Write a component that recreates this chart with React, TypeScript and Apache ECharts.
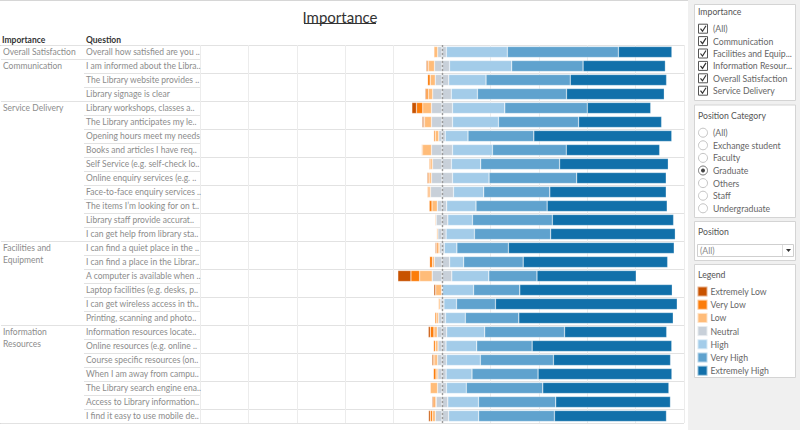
import React, { useEffect, useRef } from "react";
import * as echarts from "echarts";

const FONT = 'Lato, "Noto Sans", sans-serif';
const TABLE_FS = 8.5;
const PANEL_FS = 8.7;

const questions = [
  "Overall how satisfied are you ..",
  "I am informed about the Libra..",
  "The Library website provides ..",
  "Library signage is clear",
  "Library workshops, classes a..",
  "The Library anticipates my le..",
  "Opening hours meet my needs",
  "Books and articles I have req..",
  "Self Service (e.g. self-check lo..",
  "Online enquiry services (e.g. ..",
  "Face-to-face enquiry services ..",
  "The items I\u2019m looking for on t..",
  "Library staff provide accurat..",
  "I can get help from library sta..",
  "I can find a quiet place in the ..",
  "I can find a place in the Librar..",
  "A computer is available when ..",
  "Laptop facilities (e.g. desks, p..",
  "I can get wireless access in th..",
  "Printing, scanning and photo..",
  "Information resources locate..",
  "Online resources (e.g. online ..",
  "Course specific resources (on..",
  "When I am away from campu..",
  "The Library search engine ena..",
  "Access to Library information..",
  "I find it easy to use mobile de..",
];

const questionGroup = [
  0, 1, 1, 1, 2, 2, 2, 2, 2, 2, 2, 2, 2, 2, 3, 3, 3, 3, 3, 3, 4, 4, 4, 4, 4, 4, 4,
];

const groupLabelLines = [
  ["Overall Satisfaction"],
  ["Communication"],
  ["Service Delivery"],
  ["Facilities and", "Equipment"],
  ["Information", "Resources"],
];

const levels = ["Extremely Low", "Very Low", "Low", "Neutral", "High", "Very High", "Extremely High"];
const levelColors = ["#c85200", "#fc7d0b", "#ffbc79", "#c8d0d9", "#a3cce9", "#5fa2ce", "#1170aa"];

// percent of responses per level
const extremelyLow = [0, 0.4, 0, 0.4, 1.9, 0.6, 0, 0, 0, 0.4, 0, 0, 0, 0, 0.4, 0, 5.4, 0.7, 0, 0, 0.8, 0, 0.5, 0, 0, 0.4, 0.7];
const veryLow = [0, 0.6, 1.1, 0.9, 2.6, 0.3, 0.6, 0.4, 0.6, 0.6, 0.6, 1.2, 0, 0, 0.7, 1.2, 3.6, 0, 0, 0.7, 1.5, 0.8, 0.6, 1.1, 0, 0.8, 0.9];
const low = [1.6, 2.5, 2.1, 1.9, 3.6, 2.9, 1.5, 3.7, 0.8, 0.8, 0.7, 2.2, 0.5, 0.6, 0.7, 0.8, 5.2, 2.5, 0.8, 0.8, 1.4, 1.1, 1.2, 0.8, 3.1, 0.5, 1.2];
const neutral = [3.6, 6.2, 5.6, 7.7, 8.7, 8.7, 2.7, 8.7, 7.8, 8.7, 9.5, 3.9, 4.8, 3.4, 1.9, 6.3, 8.1, 0.3, 1.6, 2.9, 3.9, 3.3, 3.7, 3.4, 3.7, 4.8, 5.5];
const high = [25.2, 25.7, 15.4, 10.8, 21.6, 19.0, 9.4, 16.5, 12.1, 15.1, 12.5, 12.1, 10.2, 11.7, 5.2, 5.8, 15.3, 12.9, 5.2, 8.2, 15.7, 12.7, 14.0, 10.7, 8.2, 12.7, 12.4];
const veryHigh = [45.9, 29.5, 34.8, 36.8, 34.1, 33.1, 27.2, 30.5, 32.6, 36.2, 27.3, 29.4, 33.0, 31.5, 21.3, 24.6, 19.9, 19.1, 16.1, 22.1, 33.0, 22.9, 30.2, 27.3, 31.6, 31.9, 31.3];
const extremelyHigh = [22.1, 34.0, 39.8, 40.4, 26.2, 34.3, 57.0, 38.6, 44.9, 37.0, 48.1, 49.6, 50.1, 51.5, 68.5, 59.7, 41.0, 63.0, 75.1, 63.8, 42.2, 57.7, 48.4, 55.3, 52.1, 47.4, 46.3];

const importanceFilter = ["(All)", "Communication", "Facilities and Equip...", "Information Resour...", "Overall Satisfaction", "Service Delivery"];
const positionCategories = ["(All)", "Exchange student", "Faculty", "Graduate", "Others", "Staff", "Undergraduate"];
const selectedCategory = "Graduate";

function groupRowLabel(index: number): string {
  const g = questionGroup[index];
  const first = questionGroup.indexOf(g);
  const lines = groupLabelLines[g];
  const k = index - first;
  if (k === 0) return lines[0];
  if (k < lines.length) return "{l2|" + lines[k] + "}";
  return "";
}

function buildOption() {
  const barBase = {
    type: "bar",
    stack: "likert",
    barWidth: 11,
    xAxisIndex: 0,
    yAxisIndex: 0,
    itemStyle: { borderColor: "rgba(255,255,255,0.55)", borderWidth: 0.5 },
    emphasis: { disabled: true },
  };
  const series: any[] = [
    { ...barBase, name: "Neutral", data: neutral.map((v) => -v / 2), itemStyle: { ...barBase.itemStyle, color: levelColors[3] } },
    { ...barBase, name: "Low", data: low.map((v) => -v), itemStyle: { ...barBase.itemStyle, color: levelColors[2] } },
    { ...barBase, name: "Very Low", data: veryLow.map((v) => -v), itemStyle: { ...barBase.itemStyle, color: levelColors[1] } },
    { ...barBase, name: "Extremely Low", data: extremelyLow.map((v) => -v), itemStyle: { ...barBase.itemStyle, color: levelColors[0] } },
    { ...barBase, name: "Neutral", data: neutral.map((v) => v / 2), itemStyle: { ...barBase.itemStyle, color: levelColors[3] } },
    { ...barBase, name: "High", data: high, itemStyle: { ...barBase.itemStyle, color: levelColors[4] } },
    { ...barBase, name: "Very High", data: veryHigh, itemStyle: { ...barBase.itemStyle, color: levelColors[5] } },
    {
      ...barBase,
      name: "Extremely High",
      data: extremelyHigh,
      itemStyle: { ...barBase.itemStyle, color: levelColors[6] },
      markLine: {
        silent: true,
        symbol: "none",
        label: { show: false },
        lineStyle: { color: "#9a9a9a", type: [2, 2], width: 1.4 },
        data: [{ xAxis: 0 }],
        z: 10,
      },
    },
  ];

  const graphic: any[] = [];
  graphic.push({ type: "rect", shape: { x: 688, y: 0, width: 112, height: 430 }, style: { fill: "#f0f0f0" }, silent: true });
  graphic.push({ type: "line", shape: { x1: 0, y1: 0.5, x2: 688, y2: 0.5 }, style: { stroke: "#d6d6d6", lineWidth: 1 } });
  graphic.push({ type: "text", x: 340, y: 17, style: { text: "Importance", font: `15px ${FONT}`, fill: "#333", align: "center", verticalAlign: "middle" } });
  graphic.push({ type: "line", shape: { x1: 304, y1: 23.5, x2: 376, y2: 23.5 }, style: { stroke: "#333", lineWidth: 1 } });
  graphic.push({ type: "text", x: 2, y: 40, style: { text: "Importance", font: `bold ${TABLE_FS}px ${FONT}`, fill: "#333", verticalAlign: "middle" } });
  graphic.push({ type: "text", x: 86, y: 40, style: { text: "Question", font: `bold ${TABLE_FS}px ${FONT}`, fill: "#333", verticalAlign: "middle" } });
  graphic.push({ type: "line", shape: { x1: 0, y1: 45.5, x2: 684, y2: 45.5 }, style: { stroke: "#d9d9d9", lineWidth: 1 } });
  graphic.push({ type: "line", shape: { x1: 0, y1: 423.5, x2: 684, y2: 423.5 }, style: { stroke: "#d9d9d9", lineWidth: 1 } });

  const panelTitle = (t: string, y: number) => ({ type: "text", x: 698, y, style: { text: t, font: `${PANEL_FS}px ${FONT}`, fill: "#555", verticalAlign: "middle" } });
  const itemText = (t: string, y: number) => ({ type: "text", x: 713, y, style: { text: t, font: `${PANEL_FS}px ${FONT}`, fill: "#666", verticalAlign: "middle" } });
  const box = (y: number, h: number) => ({ type: "rect", shape: { x: 694.5, y, width: 101, height: h }, style: { fill: "#fff", stroke: "#d4d4d4", lineWidth: 1 } });

  graphic.push(box(4.5, 96));
  graphic.push(panelTitle("Importance", 11));
  importanceFilter.forEach((t, i) => {
    const cy = 28.7 + i * 12.4;
    graphic.push({ type: "rect", shape: { x: 698.5, y: cy - 4.5, width: 9, height: 9 }, style: { fill: "#fff", stroke: "#555", lineWidth: 1 } });
    graphic.push({ type: "polyline", shape: { points: [[700.5, cy], [702.5, cy + 2.5], [706, cy - 3]] }, style: { stroke: "#333", lineWidth: 1.2, fill: null } });
    graphic.push(itemText(t, cy));
  });

  graphic.push(box(105, 112.5));
  graphic.push(panelTitle("Position Category", 115.3));
  positionCategories.forEach((t, i) => {
    const cy = 132.7 + i * 12.6;
    const sel = t === selectedCategory;
    graphic.push({ type: "circle", shape: { cx: 703, cy, r: 4.5 }, style: { fill: "#fff", stroke: sel ? "#777" : "#c4c4c4", lineWidth: 1 } });
    if (sel) graphic.push({ type: "circle", shape: { cx: 703, cy, r: 2 }, style: { fill: "#444" } });
    graphic.push(itemText(t, cy));
  });

  graphic.push(box(221.5, 39));
  graphic.push(panelTitle("Position", 231.7));
  graphic.push({ type: "rect", shape: { x: 697.5, y: 244.5, width: 96, height: 12 }, style: { fill: "#fff", stroke: "#cfcfcf", lineWidth: 1 } });
  graphic.push({ type: "text", x: 700, y: 250.5, style: { text: "(All)", font: `${PANEL_FS}px ${FONT}`, fill: "#888", verticalAlign: "middle" } });
  graphic.push({ type: "line", shape: { x1: 782.5, y1: 245, x2: 782.5, y2: 256 }, style: { stroke: "#dcdcdc", lineWidth: 1 } });
  graphic.push({ type: "polygon", shape: { points: [[786, 249], [791, 249], [788.5, 252]] }, style: { fill: "#333" } });

  graphic.push(box(264.5, 113));
  graphic.push(panelTitle("Legend", 274));

  const grid0 = { left: 200, top: 45, width: 484, height: 378 };
  const gridQ = { left: 84, top: 45, width: 116, height: 378 };
  const gridG = { left: 0, top: 45, width: 84, height: 378 };

  const hiddenX = (gi: number) => ({ type: "value", gridIndex: gi, min: 0, max: 1, show: false });

  return {
    animation: false,
    textStyle: { fontFamily: FONT },
    legend: {
      data: levels,
      orient: "vertical",
      left: 696.5,
      top: 285.5,
      itemWidth: 10,
      itemHeight: 10,
      itemGap: 1.2,
      icon: "rect",
      selectedMode: false,
      padding: 0,
      textStyle: { fontSize: PANEL_FS, color: "#666", fontFamily: FONT, padding: [0, 0, 0, -2] },
      z: 20,
    },
    grid: [grid0, gridQ, gridG],
    xAxis: [
      {
        type: "value",
        gridIndex: 0,
        min: -100,
        max: 100,
        interval: 20,
        axisLabel: { show: false },
        axisLine: { show: false },
        axisTick: { show: false },
        splitLine: { show: true, lineStyle: { color: "#ececec", width: 1 } },
      },
      hiddenX(1),
      hiddenX(2),
    ],
    yAxis: [
      {
        type: "category",
        gridIndex: 0,
        data: questions,
        inverse: true,
        axisLabel: { show: false },
        axisLine: { show: false },
        axisTick: { show: false },
        splitLine: { show: true, lineStyle: { color: "#e2e2e2", width: 1 } },
      },
      {
        type: "category",
        gridIndex: 1,
        data: questions,
        inverse: true,
        axisLine: { show: false },
        axisTick: { show: false },
        splitLine: { show: true, lineStyle: { color: "#e2e2e2", width: 1 } },
        axisLabel: { inside: true, margin: 2, fontSize: TABLE_FS, color: "#8c8c8c", fontFamily: FONT, interval: 0 },
      },
      {
        type: "category",
        gridIndex: 2,
        data: questions,
        inverse: true,
        axisLine: { show: false },
        axisTick: { show: false },
        splitLine: {
          show: true,
          interval: (index: number) => index === 0 || questionGroup[index] !== questionGroup[index - 1],
          lineStyle: { color: "#e2e2e2", width: 1 },
        },
        axisLabel: {
          inside: true,
          margin: 2,
          fontSize: TABLE_FS,
          color: "#8c8c8c",
          fontFamily: FONT,
          interval: 0,
          formatter: (_v: string, index: number) => groupRowLabel(index),
          rich: { l2: { fontSize: TABLE_FS, color: "#8c8c8c", fontFamily: FONT, padding: [0, 0, 4, 0] } },
        },
      },
    ],
    series,
    graphic,
  };
}

export default function App() {
  const ref = useRef<HTMLDivElement>(null);
  useEffect(() => {
    document.body.style.margin = "0";
    const chart = echarts.init(ref.current!, null, { renderer: "svg" });
    chart.setOption(buildOption() as any);
    return () => chart.dispose();
  }, []);
  return <div ref={ref} style={{ width: 800, height: 430, background: "#fff" }} />;
}
